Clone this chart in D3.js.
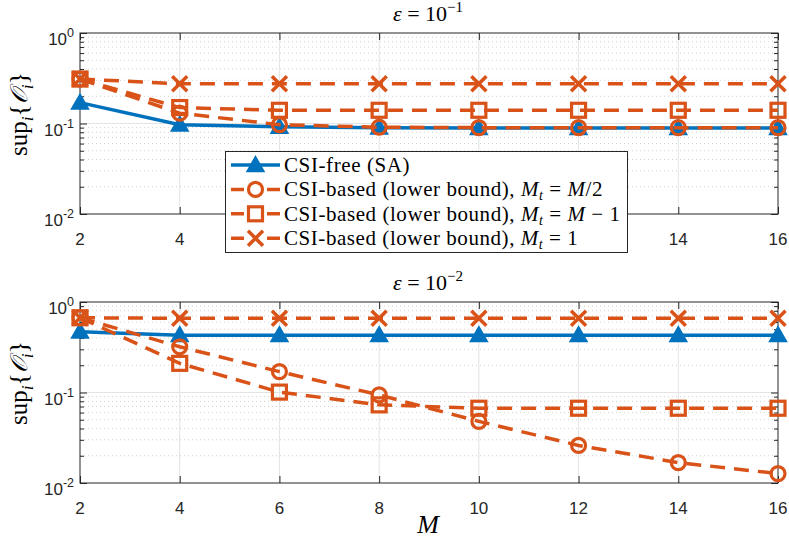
<!DOCTYPE html>
<html><head><meta charset="utf-8">
<script src="https://cdn.jsdelivr.net/npm/d3@7"></script>
<style>body{margin:0;background:#fff}svg{display:block}</style>
</head><body>
<svg id="c" width="789" height="542"></svg>
<script>
const M = [2, 4, 6, 8, 10, 12, 14, 16];
const xTicks = [2, 4, 6, 8, 10, 12, 14, 16];
const yTickExps = [-2, -1, 0];

// epsilon = 1e-1
const top_SA   = [0.17, 0.097, 0.092, 0.09, 0.089, 0.089, 0.089, 0.089];
const top_half = [0.31, 0.13, 0.097, 0.091, 0.09, 0.09, 0.09, 0.09];
const top_m1   = [0.31, 0.15, 0.14, 0.14, 0.14, 0.14, 0.14, 0.14];
const top_one  = [0.31, 0.275, 0.275, 0.275, 0.275, 0.275, 0.275, 0.275];
// epsilon = 1e-2
const bot_SA   = [0.47, 0.43, 0.43, 0.43, 0.43, 0.43, 0.43, 0.43];
const bot_half = [0.67, 0.32, 0.17, 0.094, 0.048, 0.026, 0.0168, 0.0127];
const bot_m1   = [0.67, 0.21, 0.101, 0.073, 0.067, 0.067, 0.067, 0.067];
const bot_one  = [0.67, 0.66, 0.66, 0.66, 0.66, 0.66, 0.66, 0.66];

const titles = ["\u22121", "\u22122"];
const legendLabels = [
  {pre: "CSI-free (SA)", math: null},
  {pre: "CSI-based (lower bound), ", math: "M/2"},
  {pre: "CSI-based (lower bound), ", math: "M\u22121"},
  {pre: "CSI-based (lower bound), ", math: "1"}
];

const BLUE = "#0072BD", ORANGE = "#D95319";
const svg = d3.select("#c");
const x = d3.scaleLinear().domain([2, 16]).range([80, 778]);
const serif = "'Liberation Serif','DejaVu Serif',serif";
const sans = "'Liberation Sans',Arial,sans-serif";
const legendBox = {x: 225.5, y: 151.5, w: 402, h: 101};

const series = [
  {key: "SA", color: BLUE, dash: null, marker: "tri"},
  {key: "half", color: ORANGE, dash: "15,9", marker: "circle"},
  {key: "m1", color: ORANGE, dash: "15,9", marker: "square"},
  {key: "one", color: ORANGE, dash: "15,9", marker: "x"}
];

function drawMarker(g, type, cx, cy, color) {
  if (type === "tri") {
    const s = 8.5;
    g.append("path").attr("d", `M${cx},${cy - s}L${cx + s},${cy + s * 0.75}L${cx - s},${cy + s * 0.75}Z`)
      .attr("fill", color).attr("stroke", color).attr("stroke-width", 1.5).attr("stroke-linejoin", "miter");
  } else if (type === "circle") {
    g.append("circle").attr("cx", cx).attr("cy", cy).attr("r", 7)
      .attr("fill", "none").attr("stroke", color).attr("stroke-width", 3.2);
  } else if (type === "square") {
    g.append("rect").attr("x", cx - 7).attr("y", cy - 7).attr("width", 14).attr("height", 14)
      .attr("fill", "none").attr("stroke", color).attr("stroke-width", 3.2);
  } else if (type === "x") {
    const s = 7.5;
    g.append("path").attr("d", `M${cx - s},${cy - s}L${cx + s},${cy + s}M${cx - s},${cy + s}L${cx + s},${cy - s}`)
      .attr("stroke", color).attr("stroke-width", 3.5).attr("fill", "none");
  }
}

function panel(top, data, expLabel, hideUnderLegend) {
  const y = d3.scaleLog().domain([0.01, 1]).range([top + 181, top]);
  const g = svg.append("g");
  const x0 = 80, x1 = 778, y0 = top, y1 = top + 181;
  const minors = [];
  [0.01, 0.1].forEach(d => { for (let k = 2; k <= 9; k++) minors.push(d * k); });
  g.selectAll(".mg").data(minors).enter().append("line")
    .attr("x1", x0).attr("x2", x1).attr("y1", d => y(d)).attr("y2", d => y(d))
    .attr("stroke", "#c4c4c4").attr("stroke-width", 0.8).attr("stroke-dasharray", "1,3");
  g.selectAll(".gx").data(xTicks.slice(1, -1)).enter().append("line")
    .attr("x1", d => x(d)).attr("x2", d => x(d)).attr("y1", y0).attr("y2", y1)
    .attr("stroke", "#e3e3e3").attr("stroke-width", 1);
  g.selectAll(".gy").data([0.1]).enter().append("line")
    .attr("x1", x0).attr("x2", x1).attr("y1", d => y(d)).attr("y2", d => y(d))
    .attr("stroke", "#e3e3e3").attr("stroke-width", 1);

  const ax = svg.append("g");
  const yMajor = yTickExps.map(e => Math.pow(10, e));
  const axes = [
    [d3.axisLeft(y).tickValues(yMajor).tickSize(-7), `translate(${x0},0)`],
    [d3.axisLeft(y).tickValues(minors).tickSize(-4), `translate(${x0},0)`],
    [d3.axisRight(y).tickValues(yMajor).tickSize(-7), `translate(${x1},0)`],
    [d3.axisRight(y).tickValues(minors).tickSize(-4), `translate(${x1},0)`],
    [d3.axisBottom(x).tickValues(xTicks).tickSize(-7), `translate(0,${y1})`],
    [d3.axisTop(x).tickValues(xTicks).tickSize(-7), `translate(0,${y0})`]
  ];
  axes.forEach(([a, t]) => {
    const gg = ax.append("g").attr("transform", t).call(a.tickFormat(""));
    gg.select(".domain").remove();
    gg.selectAll("line").attr("stroke", "#262626").attr("stroke-width", 1);
  });
  ax.append("rect").attr("x", x0).attr("y", y0).attr("width", x1 - x0).attr("height", y1 - y0)
    .attr("fill", "none").attr("stroke", "#262626").attr("stroke-width", 1);

  xTicks.forEach(v => {
    const px = x(v);
    if (hideUnderLegend && px > legendBox.x + 5 && px < legendBox.x + legendBox.w - 5) return;
    ax.append("text").attr("x", px).attr("y", y1 + 31).attr("text-anchor", "middle")
      .attr("font-family", sans).attr("font-size", 17).attr("fill", "#262626").text(v);
  });
  yTickExps.forEach(e => {
    const t = ax.append("text").attr("x", x0 - 6).attr("y", y(Math.pow(10, e)) + 12).attr("text-anchor", "end")
      .attr("font-family", sans).attr("font-size", 17).attr("fill", "#262626");
    t.append("tspan").text("10");
    t.append("tspan").attr("dy", -8).attr("font-size", 12.5).text(e === 0 ? "0" : "-" + (-e));
  });

  const tt = ax.append("text").attr("x", 428).attr("y", top - 12).attr("text-anchor", "middle")
    .attr("font-family", serif).attr("font-size", 22).attr("fill", "#000");
  tt.append("tspan").attr("font-style", "italic").text("\u03B5");
  tt.append("tspan").text(" = 10");
  tt.append("tspan").attr("dy", -9).attr("font-size", 15).text(expLabel);

  const yl = ax.append("text").attr("transform", `translate(27,${top + 81}) rotate(-90)`)
    .attr("text-anchor", "middle").attr("font-family", serif).attr("font-size", 25).attr("fill", "#000");
  yl.append("tspan").text("sup");
  yl.append("tspan").attr("dy", 6).attr("font-size", 17).attr("font-style", "italic").text("i");
  yl.append("tspan").attr("dy", -6).attr("font-size", 26).text("{");
  yl.append("tspan").attr("font-style", "italic").attr("font-family", "'DejaVu Serif',serif").attr("font-size", 24).text("\uD835\uDCAA");
  yl.append("tspan").attr("dy", 6).attr("font-size", 17).attr("font-style", "italic").text("i");
  yl.append("tspan").attr("dy", -6).attr("font-size", 26).text("}");

  const line = d3.line().x((d, i) => x(M[i])).y(d => y(d));
  const dg = svg.append("g");
  series.forEach((s, si) => {
    const vals = data[si];
    const p = dg.append("path").datum(vals).attr("d", line).attr("fill", "none")
      .attr("stroke", s.color).attr("stroke-width", 3.5);
    if (s.dash) p.attr("stroke-dasharray", s.dash);
    vals.forEach((v, i) => drawMarker(dg, s.marker, x(M[i]), y(v), s.color));
  });
}

panel(33, [top_SA, top_half, top_m1, top_one], titles[0], true);
panel(302, [bot_SA, bot_half, bot_m1, bot_one], titles[1], false);

svg.append("text").attr("x", 428).attr("y", 533).attr("text-anchor", "middle")
  .attr("font-family", serif).attr("font-style", "italic").attr("font-size", 26).text("M");

const lg = svg.append("g");
lg.append("rect").attr("x", legendBox.x).attr("y", legendBox.y).attr("width", legendBox.w).attr("height", legendBox.h)
  .attr("fill", "#fff").attr("stroke", "#262626").attr("stroke-width", 1);
const legTexts = [];
legendLabels.forEach((lab, i) => {
  const cy = 165 + i * 24.4;
  const s = series[i];
  const l = lg.append("line").attr("x1", 231).attr("x2", 280).attr("y1", cy).attr("y2", cy)
    .attr("stroke", s.color).attr("stroke-width", 3.5);
  if (s.dash) l.attr("stroke-dasharray", "13,23,13");
  drawMarker(lg, s.marker, 255.5, cy, s.color);
  const t = lg.append("text").attr("x", 284).attr("y", cy + 7).attr("font-family", serif)
    .attr("font-size", 21).attr("fill", "#000");
  t.append("tspan").text(lab.pre);
  if (lab.math) {
    t.append("tspan").attr("font-style", "italic").text("M");
    t.append("tspan").attr("font-style", "italic").attr("font-size", 14).attr("dy", 4).text("t");
    t.append("tspan").attr("dy", -4).text(" = ");
    if (lab.math === "M/2") {
      t.append("tspan").attr("font-style", "italic").text("M");
      t.append("tspan").text("/2");
    } else if (lab.math === "M\u22121") {
      t.append("tspan").attr("font-style", "italic").text("M");
      t.append("tspan").text(" \u2212 1");
    } else {
      t.append("tspan").text("1");
    }
  }
  legTexts.push(t);
});
const longest = legTexts[2].node().getComputedTextLength();
const k = longest > 0 ? 336 / longest : 1;
if (k > 1) legTexts.forEach(t => {
  const w = t.node().getComputedTextLength();
  t.attr("textLength", w * k).attr("lengthAdjust", "spacing");
});
</script>
</body></html>
